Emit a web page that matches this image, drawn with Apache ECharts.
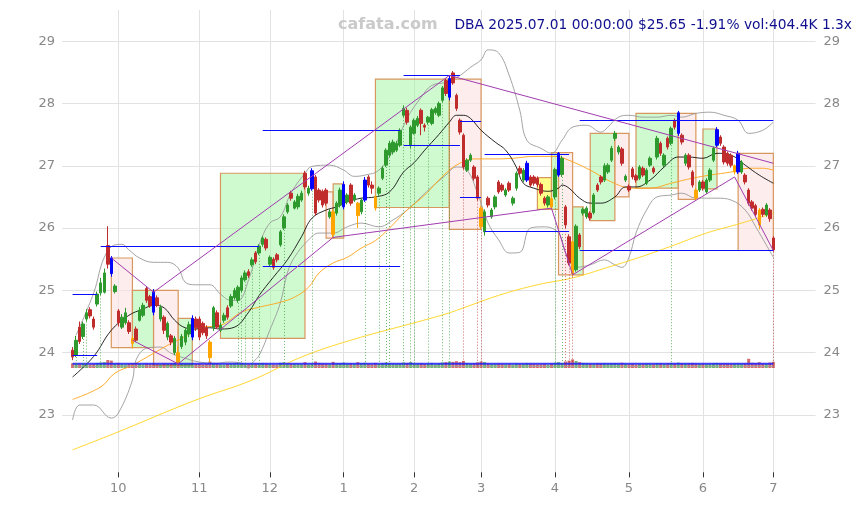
<!DOCTYPE html>
<html><head><meta charset="utf-8">
<script src="https://cdn.jsdelivr.net/npm/echarts/dist/echarts.min.js"></script>
<style>html,body{margin:0;padding:0;background:#fff}#c{width:862px;height:505px}</style>
</head><body><div id="c"></div>
<script>
// ---------- DATA ----------
const tradingDays = [
 ['2024-09',[12,13,16,17,18,19,20,23,24,25,26,27,30]],
 ['2024-10',[1,2,3,4,7,8,9,10,11,14,15,16,17,18,21,22,23,24,25,28,29,30,31]],
 ['2024-11',[1,4,5,6,7,8,11,12,13,14,15,18,19,20,21,22,25,26,27,29]],
 ['2024-12',[2,3,4,5,6,9,10,11,12,13,16,17,18,19,20,23,24,26,27,30,31]],
 ['2025-01',[2,3,6,7,8,10,13,14,15,16,17,21,22,23,24,27,28,29,30,31]],
 ['2025-02',[3,4,5,6,7,10,11,12,13,14,18,19,20,21,24,25,26,27,28]],
 ['2025-03',[3,4,5,6,7,10,11,12,13,14,17,18,19,20,21,24,25,26,27,28,31]],
 ['2025-04',[1,2,3,4,7,8,9,10,11,14,15,16,17,21,22,23,24,25,28,29,30]],
 ['2025-05',[1,2,5,6,7,8,9,12,13,14,15,16,19,20,21,22,23,27,28,29,30]],
 ['2025-06',[2,3,4,5,6,9,10,11,12,13,16,17,18,20,23,24,25,26,27,30]],
 ['2025-07',[1]]
];
// [open, close, low, high]
const ohlc = [
[24.04,23.93,23.88,24.09],[23.96,24.20,23.93,24.27],[24.41,24.18,24.14,24.50],[24.26,24.46,24.22,24.50],[24.54,24.64,24.50,24.70],
[24.69,24.59,24.55,24.73],[24.54,24.41,24.37,24.58],[24.78,24.94,24.74,24.98],[24.96,25.12,24.92,25.20],[24.97,25.28,24.95,25.35],
[25.72,25.42,25.35,26.03],[25.52,25.27,25.22,25.55],[24.98,25.07,24.95,25.10],[24.67,24.48,24.42,24.70],[24.41,24.57,24.38,24.62],
[24.48,24.64,24.45,24.72],[24.48,24.34,24.30,24.52],[24.23,24.15,24.07,24.27],[24.38,24.20,24.17,24.42],[24.52,24.68,24.50,24.73],
[24.60,24.76,24.57,24.80],[25.03,24.84,24.80,25.07],[24.90,24.75,24.72,24.93],[24.97,24.65,24.60,25.02],[24.88,24.76,24.73,24.92],
[24.54,24.73,24.50,24.77],[24.57,24.36,24.30,24.60],[24.25,24.47,24.20,24.50],[24.27,24.17,24.12,24.30],[24.00,24.23,23.96,24.27],
[24.00,23.84,23.80,24.10],[24.10,24.26,24.06,24.30],[24.17,24.36,24.12,24.40],[24.30,24.45,24.25,24.50],[24.25,24.55,24.20,24.60],
[24.54,24.40,24.35,24.58],[24.54,24.25,24.20,24.58],[24.47,24.32,24.28,24.50],[24.40,24.27,24.22,24.44],[24.17,23.92,23.85,24.20],
[24.40,24.72,24.35,24.75],[24.64,24.41,24.38,24.68],[24.36,24.44,24.33,24.48],[24.52,24.60,24.48,24.64],[24.72,24.57,24.53,24.76],
[24.75,24.90,24.72,24.94],[24.88,25.00,24.85,25.04],[24.84,25.05,24.80,25.08],[25.00,25.20,24.97,25.24],[25.17,25.28,25.14,25.32],
[25.30,25.24,25.20,25.34],[25.41,25.49,25.38,25.53],[25.60,25.46,25.42,25.63],[25.60,25.71,25.57,25.74],[25.74,25.84,25.70,25.87],
[25.82,25.68,25.64,25.85],[25.42,25.53,25.38,25.56],[25.50,25.37,25.33,25.53],[25.57,25.49,25.45,25.60],[25.73,25.94,25.70,25.97],
[26.00,26.18,25.97,26.22],[26.26,26.37,26.23,26.40],[26.56,26.48,26.44,26.60],[26.32,26.42,26.30,26.45],[26.34,26.51,26.30,26.55],
[26.45,26.56,26.42,26.60],[26.88,26.66,26.62,26.92],[26.56,26.64,26.52,26.68],[26.63,26.92,26.60,26.96],[26.82,26.24,26.20,26.85],
[26.61,26.45,26.41,26.64],[26.59,26.37,26.33,26.62],[26.61,26.40,26.36,26.64],[26.18,26.26,26.15,26.30],[26.26,25.90,25.85,26.30],
[26.24,26.40,26.20,26.43],[26.37,26.61,26.33,26.65],[26.34,26.70,26.30,26.75],[26.42,26.53,26.38,26.56],[26.69,26.40,26.36,26.72],
[26.45,26.53,26.42,26.56],[26.40,26.20,26.00,26.42],[26.26,26.45,26.22,26.48],[26.45,26.77,26.42,26.82],[26.82,26.69,26.65,26.85],
[26.69,26.64,26.55,26.75],[26.50,26.32,26.28,26.53],[26.56,26.64,26.52,26.67],[26.80,26.96,26.77,27.00],[27.01,27.25,26.98,27.28],
[27.17,27.36,27.14,27.40],[27.22,27.38,27.18,27.42],[27.25,27.36,27.22,27.40],[27.33,27.57,27.30,27.60],[27.81,27.92,27.78,27.97],
[27.89,27.70,27.66,27.93],[27.33,27.62,27.28,27.65],[27.52,27.73,27.50,27.76],[27.65,27.76,27.62,27.80],[27.89,27.68,27.49,27.92],
[27.65,27.62,27.55,27.68],[27.70,27.78,27.66,27.80],[27.68,27.90,27.65,27.93],[27.85,27.92,27.82,27.95],[27.81,28.00,27.78,28.03],
[28.05,28.25,28.02,28.28],[28.37,28.16,28.12,28.40],[28.10,28.40,28.05,28.45],[28.49,28.33,28.30,28.52],[28.13,27.92,27.88,28.16],
[27.73,27.54,27.50,27.76],[27.49,26.98,26.94,27.52],[26.93,27.09,26.90,27.12],[27.09,27.17,27.06,27.20],[26.98,26.80,26.76,27.01],
[26.82,26.48,26.44,26.85],[26.32,26.02,25.98,26.35],[25.94,26.26,25.88,26.30],[26.48,26.37,26.33,26.51],[26.18,26.29,26.15,26.32],
[26.34,26.50,26.30,26.53],[26.74,26.58,26.55,26.77],[26.69,26.61,26.58,26.72],[26.53,26.61,26.50,26.64],[26.72,26.61,26.58,26.75],
[26.40,26.48,26.36,26.51],[26.64,26.88,26.60,26.91],[26.96,26.88,26.85,27.00],[26.77,26.93,26.74,26.96],[26.77,27.04,26.74,27.08],
[26.82,26.69,26.66,26.85],[26.82,26.72,26.68,26.85],[26.80,26.70,26.66,26.83],[26.70,26.56,26.52,26.73],[26.48,26.40,26.36,26.51],
[26.37,26.50,26.33,26.53],[26.47,26.34,26.30,26.50],[26.50,26.94,26.46,26.97],[26.85,27.20,26.82,27.22],[26.86,27.12,26.82,27.16],
[26.34,26.05,26.00,26.37],[25.86,25.44,25.40,25.90],[25.78,25.27,25.22,25.80],[25.33,26.03,25.30,26.06],[25.89,25.70,25.66,25.92],
[26.24,26.30,26.20,26.33],[26.18,26.32,26.15,26.35],[26.24,26.16,26.12,26.27],[26.25,26.53,26.22,26.56],[26.69,26.61,26.58,26.72],
[26.82,26.74,26.70,26.85],[26.77,27.00,26.74,27.04],[26.90,27.01,26.87,27.04],[27.09,27.28,27.06,27.32],[27.44,27.52,27.40,27.56],
[27.22,27.30,27.18,27.33],[27.27,27.04,27.00,27.30],[26.77,26.83,26.74,26.86],[26.67,26.61,26.58,26.70],[26.95,26.82,26.78,26.98],
[26.84,26.77,26.73,26.87],[26.80,26.98,26.77,27.01],[26.96,26.85,26.82,26.99],[26.72,26.93,26.69,26.96],[27.01,27.12,26.98,27.15],
[26.96,26.90,26.87,26.99],[27.14,27.44,27.10,27.48],[27.36,27.20,27.16,27.39],[27.01,27.17,26.98,27.20],[27.44,27.30,27.26,27.47],
[27.36,27.60,27.33,27.63],[27.73,27.62,27.58,27.76],[27.52,27.85,27.48,27.88],[27.49,27.38,27.34,27.52],[27.04,27.17,27.00,27.20],
[27.17,26.98,26.94,27.20],[26.90,26.69,26.65,26.93],[26.61,26.48,26.44,26.64],[26.61,26.74,26.58,26.77],[26.74,26.64,26.60,26.77],
[26.58,26.77,26.55,26.80],[26.77,26.93,26.74,26.96],[27.09,27.28,27.06,27.31],[27.33,27.58,27.30,27.62],[27.46,27.36,27.32,27.49],
[27.30,27.06,27.02,27.33],[27.20,27.04,27.00,27.23],[27.17,27.01,26.97,27.20],[26.90,27.00,26.86,27.02],[26.90,27.20,26.87,27.24],
[26.90,27.06,26.87,27.09],[26.85,26.74,26.70,26.88],[26.61,26.40,26.36,26.64],[26.42,26.32,26.28,26.45],[26.36,26.22,26.18,26.39],
[26.29,26.05,25.98,26.32],[26.30,26.22,26.18,26.33],[26.21,26.37,26.18,26.40],[26.29,26.15,26.10,26.32],[25.84,25.65,25.62,25.87]
];
// volume in thousands
const volumeK = [
310,280,260,300,250,240,270,330,350,380, 520,480,300,330,260,240,280,320,300,270,
250,290,260,310,240,230,300,260,280,330, 380,300,270,290,310,260,280,240,250,420,
330,300,240,230,260,280,300,320,310,280, 250,300,280,320,330,300,260,240,230,340,
360,300,280,260,270,250,380,240,300,420, 330,280,270,250,400,300,320,350,280,300,
260,380,300,340,270,250,330,260,300,350, 310,280,260,300,360,330,380,300,270,320,
260,280,330,250,300,360,380,420,400,440, 380,460,330,280,300,360,420,380,300,260,
270,290,250,240,260,230,300,260,270,320, 280,260,240,250,270,230,300,340,380,330,
420,480,560,450,380,330,300,280,260,310, 290,310,270,300,320,280,340,260,250,280,
240,270,260,290,280,250,320,300,270,290, 330,300,350,310,280,300,330,290,260,270,
250,280,310,330,290,300,280,270,300,320, 280,300,600,340,320,380,300,280,350,404.4
];
const swingHighIdx = [11,23,34,68,77,83,107,129,138,172,183,189];
const swingLowIdx  = [17,30,39,74,81,86,116,136,142,177,188,195];
// moving averages / bands : [dayIndex, price]
const maBlack = [[0,23.61],[6,23.94],[11,24.36],[16,24.6],[20,24.7],[23,24.76],[26,24.72],[29,24.52],[32,24.4],[35,24.38],[39,24.4],[42,24.38],[46,24.41],[50,24.65],[53,24.92],[57,25.21],[61,25.49],[65,25.86],[68,26.16],[72,26.29],[75,26.34],[78,26.42],[82,26.48],[86,26.5],[90,26.58],[94,26.9],[97,27.05],[100,27.25],[104,27.5],[107,27.7],[109,27.81],[111,27.81],[113,27.76],[116,27.57],[120,27.38],[123,27.25],[126,26.98],[128,26.72],[131,26.64],[135,26.59],[138,26.64],[139,26.69],[141,26.64],[144,26.48],[147,26.4],[150,26.4],[154,26.5],[157,26.66],[160,26.66],[164,26.77],[168,26.98],[172,27.14],[175,27.14],[179,27.12],[183,27.2],[187,27.17],[191,27.01],[195,26.85],[199,26.72]];
const maOrange = [[0,23.25],[8,23.45],[12,23.67],[17,23.8],[23,23.99],[28,24.15],[31,24.23],[36,24.4],[42,24.44],[48,24.65],[53,24.73],[59,24.81],[63,24.89],[67,25.05],[70,25.28],[74,25.44],[78,25.53],[82,25.68],[86,25.8],[90,26.0],[95,26.29],[100,26.53],[104,26.77],[107,26.93],[109,27.01],[112,27.09],[114,27.11],[120,27.11],[125,27.12],[131,27.15],[137,27.15],[140,27.11],[147,26.93],[153,26.74],[159,26.64],[164,26.64],[170,26.72],[176,26.8],[181,26.85],[187,26.9],[192,26.96],[196,26.96],[199,26.93]];
const maYellow = [[0,22.44],[13,22.73],[35,23.24],[51,23.56],[65,23.93],[79,24.2],[99,24.51],[107,24.64],[121,24.92],[132,25.09],[142,25.2],[152,25.37],[161,25.53],[171,25.73],[180,25.92],[190,26.08],[199,26.24]];
const bandUpper = [[1,24.28],[6,24.96],[9,25.53],[12,25.73],[14,25.74],[16,25.65],[19,25.52],[23,25.45],[27,25.45],[30,25.36],[32,25.13],[35,25.09],[39,25.09],[42,24.94],[45,24.84],[47,24.84],[50,25.17],[53,25.73],[56,26.08],[59,26.18],[62,26.56],[66,26.88],[68,26.99],[73,27.01],[77,26.93],[80,26.83],[83,26.85],[87,26.93],[91,27.25],[95,27.76],[99,28.1],[102,28.29],[106,28.34],[110,28.45],[113,28.58],[116,28.7],[118,28.86],[121,28.81],[124,28.45],[127,27.89],[129,27.41],[133,27.28],[136,27.2],[139,27.41],[142,27.62],[146,27.65],[150,27.54],[152,27.62],[155,27.78],[158,27.81],[162,27.78],[166,27.78],[170,27.81],[173,27.78],[177,27.84],[181,27.86],[185,27.81],[189,27.73],[192,27.52],[196,27.57],[199,27.7]];
const bandLower = [[0,22.92],[2,23.16],[6,23.16],[11,22.95],[13,23.03],[17,23.56],[18,23.88],[21,24.07],[25,24.09],[28,23.99],[32,23.91],[36,23.85],[41,23.83],[44,23.85],[48,23.83],[50,23.75],[51,23.83],[53,23.96],[56,24.36],[59,24.8],[61,25.28],[63,25.53],[67,25.81],[70,25.92],[74,25.92],[78,26.02],[82,26.08],[87,26.02],[91,26.13],[95,26.29],[99,26.5],[102,26.66],[106,26.85],[109,26.98],[112,26.93],[115,26.56],[118,26.08],[121,25.81],[124,25.6],[127,25.61],[130,26.0],[134,26.02],[138,25.92],[140,25.6],[143,25.37],[147,25.41],[151,25.49],[154,25.41],[156,25.37],[158,25.53],[160,25.92],[163,26.29],[166,26.5],[170,26.53],[173,26.56],[177,26.48],[183,26.48],[187,26.45],[191,26.29],[194,26.02],[199,25.53]];
const volAvgK = [[0,270],[50,272],[100,275],[150,272],[199,278]];
const volBaseK = [[0,110],[199,110]];
// swing boxes: [fromDay, toDay, price1, price2, kind]
const boxes = [
 [11,17,25.52,24.08,'down'],[17,23,24.08,25.00,'up'],[23,30,25.00,23.80,'down'],[30,34,23.80,24.55,'up'],
 [42,66,24.23,26.88,'up'],[72,74,26.58,25.84,'down'],[74,77,25.84,26.71,'up'],[86,107,26.33,28.39,'up'],
 [107,116,28.39,25.98,'down'],[132,136,26.81,26.30,'flat'],[136,138,26.30,27.21,'up'],[138,142,27.21,25.25,'down'],
 [142,145,25.25,26.34,'up'],[147,154,26.12,27.52,'up'],[154,158,27.52,26.50,'down'],[160,172,26.64,27.84,'up'],
 [172,177,27.84,26.46,'down'],[179,183,26.63,27.59,'up'],[189,199,27.20,25.64,'down']
];
// horizontal levels: [fromDay, toDay, price]
const levels = [
 [0,7,24.93],[0,7,23.96],[8,53,25.71],[54,93,27.57],[54,93,25.39],[94,110,28.45],[94,110,27.33],
 [110,116,27.72],[110,116,26.50],[117,141,27.18],[117,141,25.95],[144,199,27.73],[144,199,25.64]
];
// trend lines: [day1, price1, day2, price2]
const trends = [
 [11,25.52,23,24.97],[17,24.20,30,23.82],[23,24.97,107,28.45],[30,23.82,74,25.85],[74,25.85,136,26.32],
 [107,28.45,199,27.04],[136,26.32,142,25.25],[142,25.25,188,26.82],[188,26.82,199,25.64]
];
const dotUp = [1,3,4,8,47,48,49,51,53,60,68,83,87,89,90,94,96,97,101,105,107,137,139,170];
const dotDown = [111,115,116,140,141,142,199];
const dotBase = 23.78;
const titleText = 'DBA 2025.07.01 00:00:00 $25.65 -1.91% vol:404.4K 1.3x';
const watermark = 'cafata.com';

// ---------- BUILD ----------
const PAD_L = 3, PAD_R = 12;
const days = [];
tradingDays.forEach(([m, ds]) => ds.forEach(d => days.push(m + '-' + String(d).padStart(2,'0'))));
const cats = [];
for (let k = 0; k < PAD_L; k++) cats.push('pl' + k);
days.forEach(d => cats.push(d));
for (let k = 0; k < PAD_R; k++) cats.push('pr' + k);
const X = i => i + PAD_L;
const isMonthStart = (idx) => {
  const v = cats[idx], p = cats[idx - 1];
  if (!v || v[0] === 'p' || !p || p[0] === 'p') return false;
  return v.slice(0,7) !== p.slice(0,7);
};
const UP = '#2e9a2e', DOWN = '#c02c2c', HI = '#0000ff', LO = '#ffa500';
const pad = (arr, fill) => Array(PAD_L).fill(fill).concat(arr, Array(PAD_R).fill(fill));
const candleData = pad(ohlc.map((c, i) => {
  if (swingHighIdx.includes(i)) return {value: c, itemStyle: {color: HI, color0: HI, borderColor: HI, borderColor0: HI}};
  if (swingLowIdx.includes(i)) return {value: c, itemStyle: {color: LO, color0: LO, borderColor: LO, borderColor0: LO}};
  return c;
}), '-');
const volData = pad(volumeK.map((v, i) => ({value: v, itemStyle: {color: ohlc[i][1] >= ohlc[i][0] ? 'rgba(46,154,46,0.7)' : 'rgba(192,44,44,0.7)'}})), '-');
const xy = pts => pts.map(([i, v]) => [X(i), v]);
const boxFill = {up: 'rgba(160,245,160,0.5)', down: 'rgba(252,225,225,0.6)', flat: 'rgba(255,255,110,0.8)'};
const areaData = boxes.map(([a, b, p1, p2, k]) => [
  {coord: [X(a), Math.max(p1,p2)], itemStyle: {color: boxFill[k], borderColor: '#d8975e', borderWidth: 1.2}},
  {coord: [X(b), Math.min(p1,p2)]}
]);
const levelItems = levels.map(([a, b, p]) => [{coord: [X(a), p]}, {coord: [X(b), p]}]);
const trendItems = trends.map(([a, p1, b, p2]) => [{coord: [X(a), p1]}, {coord: [X(b), p2]}]);
const dotItems = arr => arr.map(i => [{coord: [X(i), ohlc[i][2]]}, {coord: [X(i), dotBase]}]);
const markSeries = (name, items, style, z) => ({
  name, type: 'line', xAxisIndex: 0, yAxisIndex: 0, data: [], silent: true, z,
  markLine: {silent: true, symbol: ['none','none'], label: {show: false}, animation: false,
    lineStyle: style, emphasis: {disabled: true}, data: items}
});

const GL = 62, GR = 46.4;
const lbl = {color: '#888', fontSize: 13, fontFamily: 'DejaVu Sans'};
const ySplitColors = ['rgba(0,0,0,0)','#e2e2e2','#e2e2e2','#e2e2e2','#e2e2e2','#e2e2e2','#e2e2e2','#e2e2e2','rgba(0,0,0,0)'];
const yFmt = v => (Math.abs(v - Math.round(v)) < 1e-6 && v >= 23 && v <= 29) ? String(Math.round(v)) : '';
const lineS = (name, pts, color, w) => ({name, type: 'line', xAxisIndex: 0, yAxisIndex: 0, data: xy(pts), smooth: 0.4, symbol: 'none', lineStyle: {color, width: w}, z: 2, silent: true});

const chart = echarts.init(document.getElementById('c'), null, {renderer: 'canvas'});
chart.setOption({
  animation: false,
  backgroundColor: '#fff',
  textStyle: {fontFamily: 'DejaVu Sans'},
  grid: [
    {left: GL, right: GR, top: 10, bottom: 27.7, containLabel: false, outerBoundsMode: 'none'},
    {left: GL, right: GR, top: 328, bottom: 137, containLabel: false, outerBoundsMode: 'none'}
  ],
  xAxis: [
    {type: 'category', gridIndex: 0, data: cats, boundaryGap: false,
     axisLine: {show: false},
     axisTick: {show: true, inside: true, length: 5, interval: isMonthStart, lineStyle: {color: '#333'}},
     axisLabel: {interval: isMonthStart, formatter: v => String(+v.slice(5,7)), margin: 5, ...lbl},
     splitLine: {show: true, interval: isMonthStart, lineStyle: {color: '#e2e2e2', width: 1}}},
    {type: 'category', gridIndex: 1, data: cats, boundaryGap: false, show: false}
  ],
  yAxis: [
    {type: 'value', gridIndex: 0, position: 'left', min: 22, max: 29.5, interval: 1,
     axisLine: {show: false}, axisTick: {show: false},
     axisLabel: {formatter: yFmt, margin: 7, ...lbl},
     splitLine: {show: true, lineStyle: {color: ySplitColors, width: 1}}},
    {type: 'value', gridIndex: 0, position: 'right', min: 22, max: 29.5, interval: 1,
     axisLine: {show: false}, axisTick: {show: false},
     axisLabel: {formatter: yFmt, margin: 8, ...lbl},
     splitLine: {show: false}},
    {type: 'value', gridIndex: 1, min: 0, max: 2600, show: false, splitLine: {show: false}}
  ],
  graphic: [
    {type: 'text', left: 338, top: 17, z: 100, style: {text: watermark, fill: '#cacaca', font: 'bold 16px "DejaVu Sans"'}},
    {type: 'text', right: 10, top: 18, z: 100, style: {text: titleText, fill: '#10108e', font: '13.8px "DejaVu Sans"'}}
  ],
  series: [
    {name: 'boxes', type: 'line', xAxisIndex: 0, yAxisIndex: 0, data: [], silent: true,
     markArea: {silent: true, z: 1, data: areaData, label: {show: false}}},
    lineS('bandUpper', bandUpper, '#9a9a9a', 0.9),
    lineS('bandLower', bandLower, '#9a9a9a', 0.9),
    lineS('maYellow', maYellow, '#ffd21a', 0.9),
    lineS('maOrange', maOrange, '#ffa318', 0.9),
    lineS('maBlack', maBlack, '#111', 0.9),
    {name: 'price', type: 'candlestick', xAxisIndex: 0, yAxisIndex: 0, data: candleData, barWidth: 3, z: 3,
     itemStyle: {color: UP, color0: DOWN, borderColor: UP, borderColor0: DOWN, borderWidth: 1}},
    markSeries('dotsUp', dotItems(dotUp), {color: 'rgba(46,154,46,0.7)', width: 1, type: [1,2]}, 4),
    markSeries('dotsDown', dotItems(dotDown), {color: 'rgba(192,44,44,0.7)', width: 1, type: [1,2]}, 4),
    markSeries('levels', levelItems, {color: '#0a0aff', width: 1, type: 'solid'}, 5),
    markSeries('trends', trendItems, {color: '#a23cb0', width: 1, type: 'solid'}, 5),
    {name: 'vol', type: 'bar', xAxisIndex: 1, yAxisIndex: 2, data: volData, barWidth: 3, silent: true, z: 2},
    {name: 'volBase', type: 'line', xAxisIndex: 1, yAxisIndex: 2, data: xy(volBaseK), symbol: 'none', lineStyle: {color: '#a0a0a0', width: 1}, silent: true, z: 3},
    {name: 'volAvg', type: 'line', xAxisIndex: 1, yAxisIndex: 2, data: xy(volAvgK), smooth: true, symbol: 'none', lineStyle: {color: 'rgba(30,30,255,0.85)', width: 2}, silent: true, z: 4}
  ]
});
</script>
</body></html>
